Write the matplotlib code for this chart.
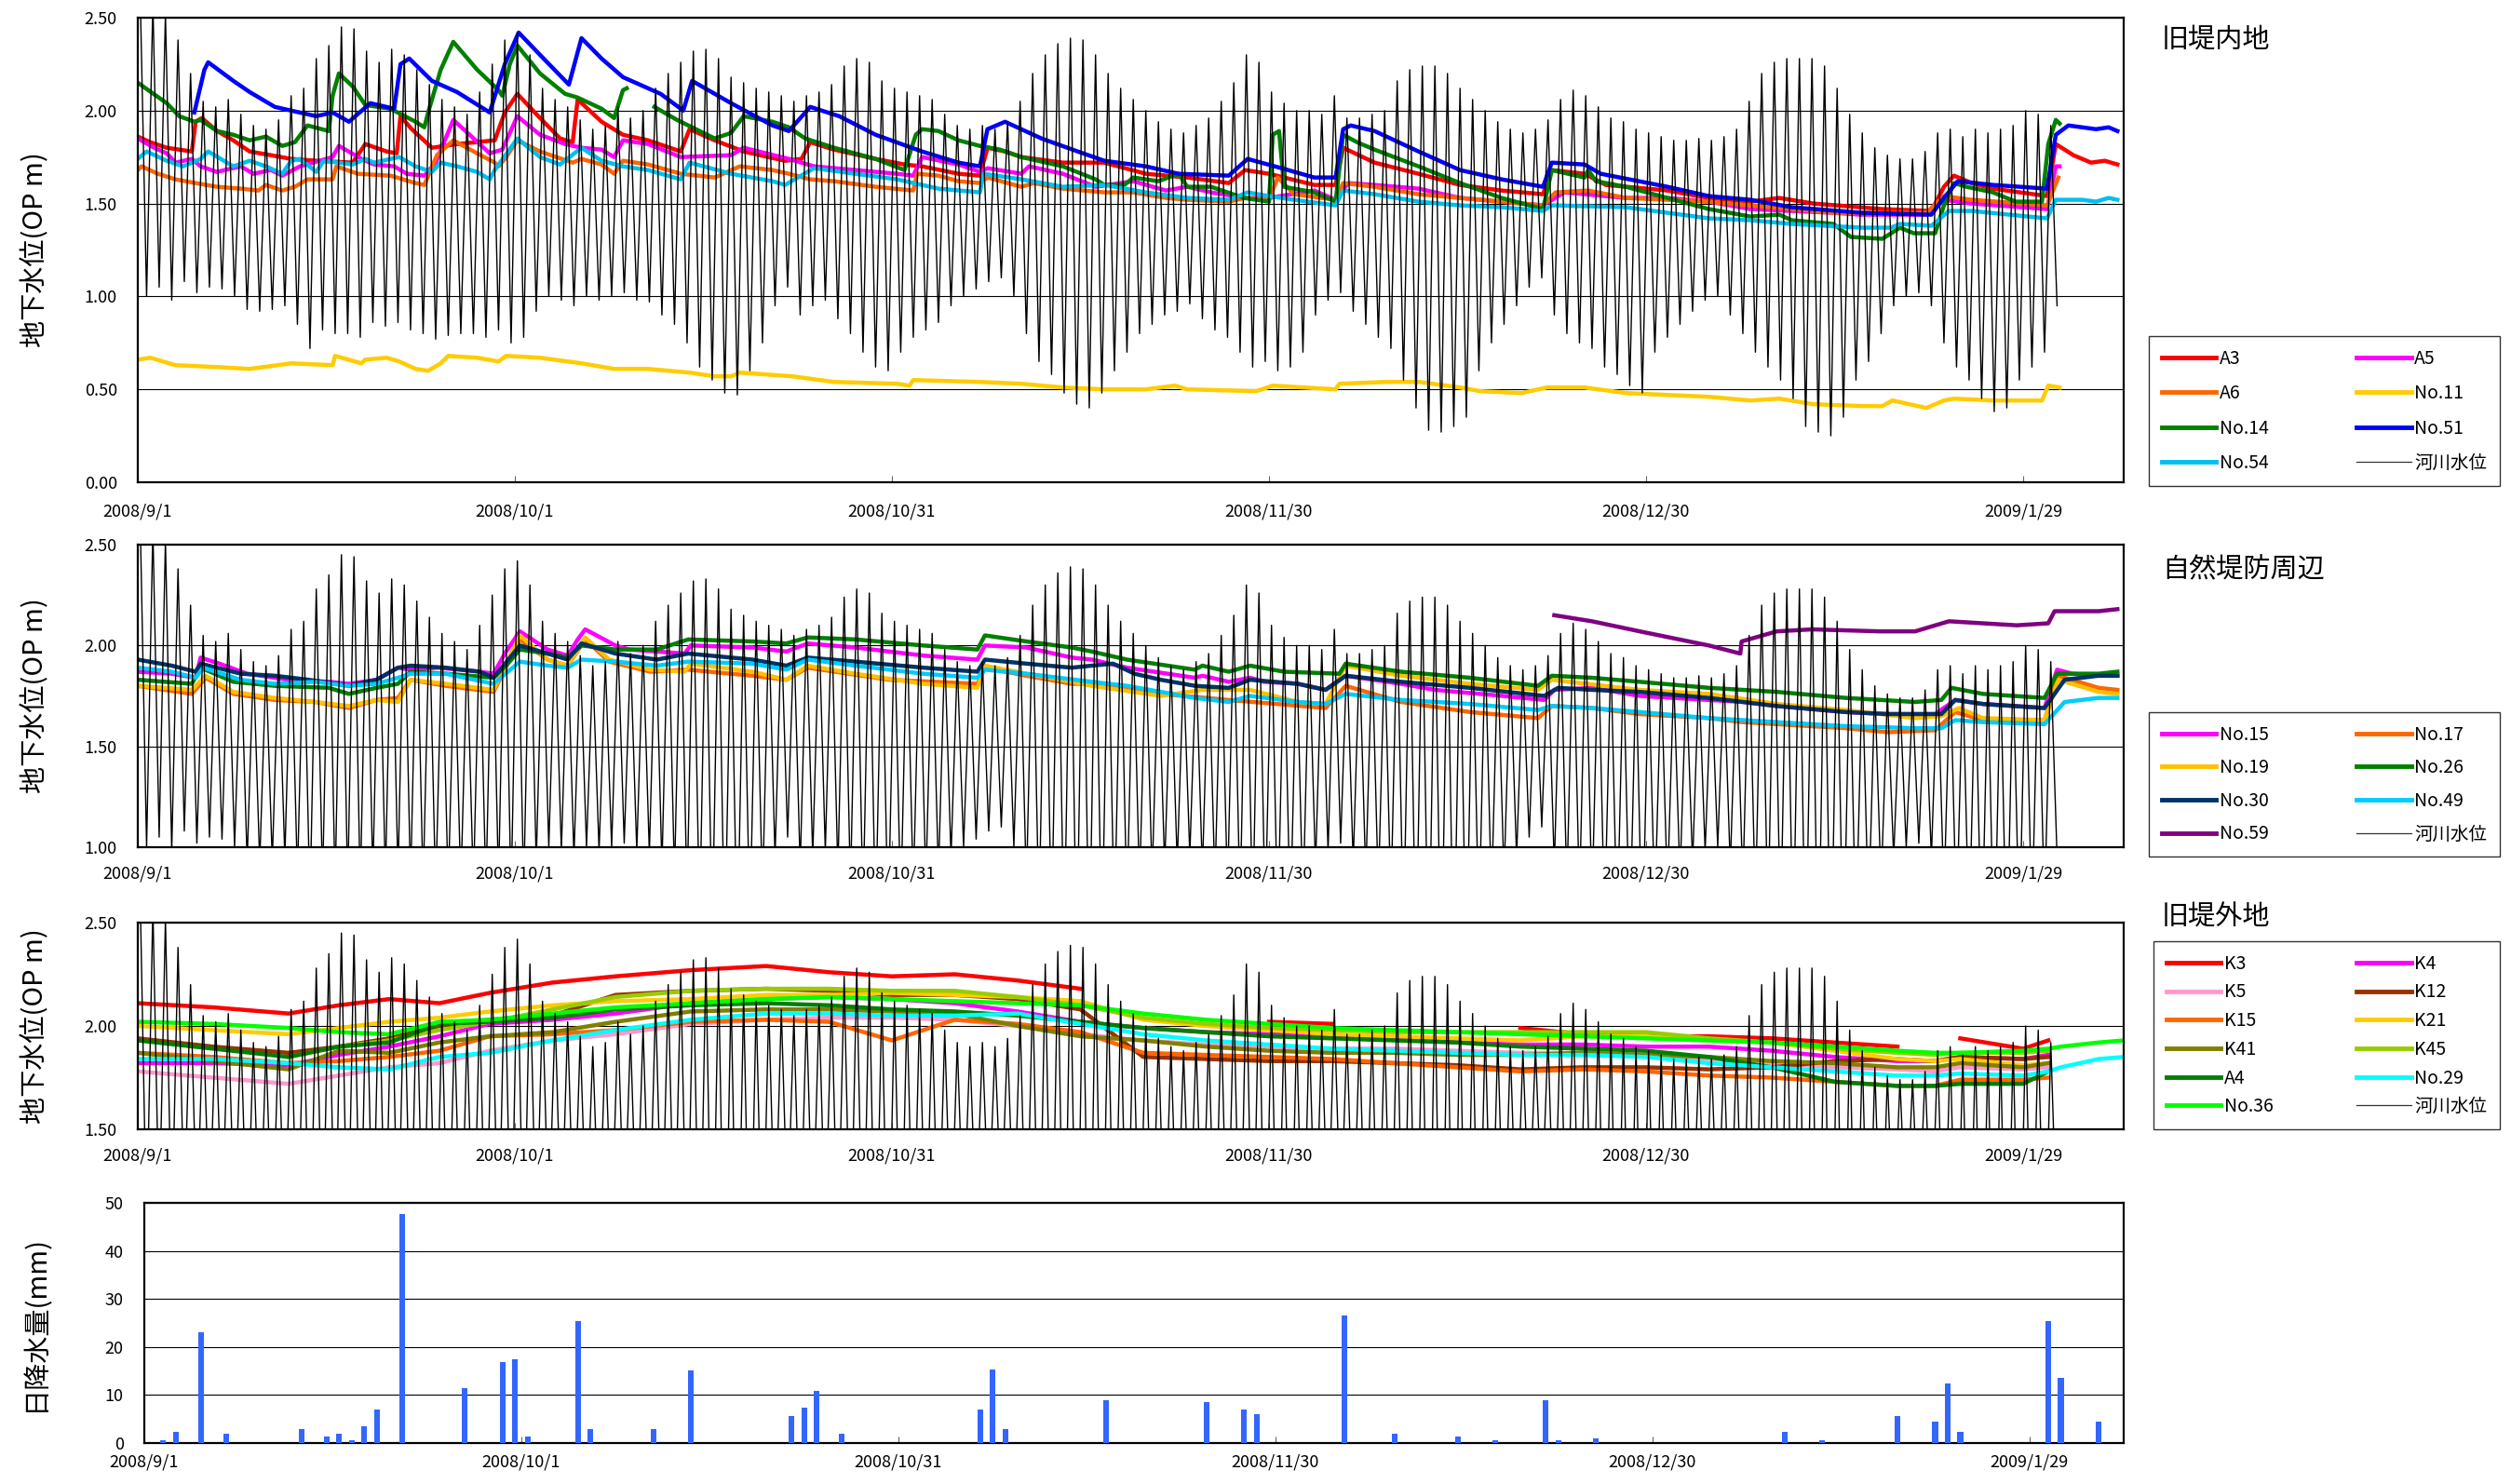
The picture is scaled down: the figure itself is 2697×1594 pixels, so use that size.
import numpy as np
import matplotlib
matplotlib.use('Agg')
import matplotlib.pyplot as plt
from matplotlib.lines import Line2D

plt.rcParams['font.family'] = ['Noto Sans CJK JP', 'DejaVu Sans']

n = np.nan

# x axis = days since 2008/9/1
tick_days = [0, 30, 60, 90, 120, 150]
tick_labels = ['2008/9/1', '2008/10/1', '2008/10/31', '2008/11/30', '2008/12/30', '2009/1/29']

# river stage (OP m): daily high / low, day 0 .. 152
river_hi = [
    2.60, 2.58, 2.52, 2.38, 2.20, 2.05, 2.02, 2.06, 1.98, 1.92,
    1.90, 1.95, 2.08, 2.12, 2.28, 2.35, 2.45, 2.44, 2.32, 2.26,
    2.33, 2.30, 2.22, 2.14, 2.06, 2.02, 1.98, 2.10, 2.25, 2.38,
    2.42, 2.30, 2.12, 2.06, 2.02, 1.95, 1.90, 1.92, 2.02, 1.96,
    2.00, 2.12, 2.20, 2.26, 2.32, 2.33, 2.28, 2.18, 2.15, 2.12,
    2.10, 2.08, 2.05, 2.08, 2.10, 2.14, 2.24, 2.28, 2.26, 2.16,
    2.12, 2.10, 2.08, 2.06, 1.98, 1.92, 1.90, 1.92, 1.90, 1.94,
    2.05, 2.20, 2.30, 2.36, 2.39, 2.38, 2.30, 2.20, 2.12, 2.06,
    2.00, 1.94, 1.90, 1.88, 1.92, 1.96, 2.05, 2.15, 2.30, 2.26,
    2.10, 2.04, 2.00, 2.00, 1.98, 2.08, 1.96, 1.96, 1.98, 2.00,
    2.16, 2.22, 2.24, 2.24, 2.20, 2.12, 2.06, 2.00, 1.94, 1.90,
    1.88, 1.90, 1.95, 2.06, 2.11, 2.08, 2.02, 1.96, 1.94, 1.90,
    1.88, 1.86, 1.84, 1.84, 1.85, 1.84, 1.86, 1.90, 2.05, 2.20,
    2.26, 2.28, 2.28, 2.28, 2.24, 2.12, 1.98, 1.88, 1.80, 1.76,
    1.74, 1.74, 1.78, 1.88, 1.90, 1.86, 1.90, 1.88, 1.90, 1.92,
    2.00, 1.98, 1.92]
river_lo = [
    1.00, 1.05, 0.98, 1.08, 1.02, 1.05, 1.04, 1.00, 0.93, 0.92,
    0.93, 0.95, 0.85, 0.72, 0.82, 0.80, 0.80, 0.78, 0.86, 0.84,
    0.86, 0.82, 0.80, 0.77, 0.79, 0.80, 0.80, 0.78, 0.82, 0.75,
    0.78, 0.92, 1.00, 0.98, 0.95, 1.00, 0.98, 1.00, 1.02, 0.98,
    0.97, 0.90, 0.85, 0.75, 0.62, 0.55, 0.48, 0.47, 0.60, 0.75,
    0.95, 1.05, 0.90, 0.95, 0.98, 0.88, 0.80, 0.70, 0.62, 0.60,
    0.70, 0.78, 0.82, 0.86, 0.95, 1.00, 1.04, 1.08, 1.10, 1.00,
    0.80, 0.65, 0.58, 0.48, 0.42, 0.40, 0.48, 0.60, 0.70, 0.80,
    0.85, 0.90, 0.92, 0.96, 0.88, 0.82, 0.78, 0.70, 0.62, 0.65,
    0.60, 0.62, 0.70, 0.90, 0.98, 1.02, 0.92, 0.85, 0.78, 0.72,
    0.55, 0.40, 0.28, 0.27, 0.30, 0.35, 0.60, 0.75, 0.85, 0.95,
    1.05, 1.10, 0.90, 0.80, 0.75, 0.72, 0.62, 0.58, 0.52, 0.48,
    0.70, 0.78, 0.85, 0.92, 0.98, 1.00, 0.90, 0.80, 0.70, 0.62,
    0.55, 0.45, 0.30, 0.27, 0.25, 0.35, 0.55, 0.65, 0.80, 0.95,
    1.00, 1.02, 0.95, 0.75, 0.62, 0.55, 0.45, 0.38, 0.40, 0.55,
    0.62, 0.70, 0.95]

# ---- 旧堤内地 (day, OP m)
A3 = [(0, 1.86), (1, 1.83), (2.3, 1.80), (4.3, 1.78), (4.6, 1.94), (5.1, 1.96), (6.3, 1.89), (7.6, 1.84),
      (8.9, 1.78), (10.6, 1.76), (12.2, 1.74), (14.2, 1.73), (17.1, 1.72), (18.1, 1.82), (19.8, 1.78),
      (20.6, 1.77), (20.9, 1.97), (21.8, 1.90), (23.4, 1.80), (25.4, 1.82), (28.4, 1.84), (29.2, 1.99),
      (30.2, 2.09), (32, 1.96), (33.6, 1.85), (34.6, 1.83), (35, 2.06), (36.9, 1.94), (38.6, 1.87),
      (40.6, 1.84), (43.2, 1.78), (43.9, 1.90), (45.9, 1.84), (48.2, 1.78), (51.5, 1.73), (52.8, 1.74),
      (53.5, 1.83), (55.4, 1.79), (58.7, 1.74), (61, 1.71), (62.4, 1.70), (65.3, 1.66), (67, 1.65),
      (67.6, 1.80), (69, 1.78), (70.3, 1.75), (73.6, 1.72), (76.9, 1.72), (80.2, 1.66), (83.5, 1.64),
      (86.8, 1.61), (88.1, 1.68), (90, 1.66), (93.6, 1.60), (95.3, 1.60), (95.9, 1.80), (98.4, 1.72),
      (101.9, 1.66), (105.2, 1.60), (108.5, 1.57), (111.8, 1.55), (112.5, 1.68), (115.1, 1.66),
      (116.8, 1.60), (121.7, 1.57), (125, 1.53), (128.3, 1.51), (130.6, 1.53), (133.3, 1.50),
      (138.8, 1.47), (142.7, 1.46), (143.7, 1.59), (144.5, 1.65), (145.9, 1.61), (147.6, 1.58),
      (151.9, 1.54), (152.6, 1.82), (154, 1.76), (155.4, 1.72), (156.5, 1.73), (157.5, 1.71)]
A5 = [(0, 1.85), (1.3, 1.80), (2.3, 1.77), (3, 1.72), (4.3, 1.74), (5, 1.70), (6.3, 1.67), (8.2, 1.70),
      (9.2, 1.66), (10.6, 1.68), (11.5, 1.65), (12.9, 1.70), (15.5, 1.75), (16, 1.81), (17.8, 1.74),
      (18.8, 1.71), (20.4, 1.70), (21.4, 1.66), (22.8, 1.65), (23.7, 1.72), (25.1, 1.95), (26.4, 1.87),
      (28, 1.77), (29, 1.79), (30.2, 1.97), (32, 1.87), (34, 1.82), (35.3, 1.80), (36.9, 1.79),
      (37.9, 1.75), (38.6, 1.84), (40.6, 1.82), (43.2, 1.75), (47.2, 1.76), (48.2, 1.80), (51.8, 1.74),
      (53.8, 1.70), (57.1, 1.68), (60.4, 1.66), (61.7, 1.65), (62.4, 1.75), (65.3, 1.71), (67, 1.67),
      (67.6, 1.69), (70.3, 1.66), (70.9, 1.70), (73.6, 1.66), (76.2, 1.59), (79.2, 1.62), (81.8, 1.57),
      (83.5, 1.59), (85.4, 1.56), (88.1, 1.53), (90, 1.53), (93.6, 1.57), (95.3, 1.52), (96.3, 1.61),
      (98.4, 1.60), (101.9, 1.58), (105.2, 1.53), (108.5, 1.51), (111.8, 1.49), (113.5, 1.56),
      (118.4, 1.53), (121.7, 1.53), (125, 1.51), (128.3, 1.47), (131.6, 1.46), (134.9, 1.45),
      (137, 1.44), (142.3, 1.44), (143.7, 1.52), (145.9, 1.50), (151.9, 1.47), (152.6, 1.70), (152.9, 1.70)]
A6 = [(0, 1.68), (0.3, 1.70), (1.6, 1.66), (3, 1.63), (4.6, 1.61), (6.3, 1.59), (8.2, 1.58), (9.6, 1.57),
      (10.2, 1.60), (11.5, 1.57), (12.5, 1.59), (13.5, 1.63), (15.5, 1.63), (15.8, 1.70), (17.5, 1.66),
      (20.1, 1.65), (22.1, 1.61), (22.8, 1.60), (23.8, 1.76), (25.1, 1.84), (27, 1.77), (28.4, 1.72),
      (28.7, 1.70), (29.2, 1.74), (30.2, 1.84), (32, 1.78), (34.6, 1.72), (35.3, 1.74), (36.9, 1.71),
      (37.9, 1.66), (38.6, 1.73), (40.6, 1.71), (43.2, 1.66), (45.9, 1.64), (47.9, 1.70), (50.5, 1.68),
      (51.8, 1.66), (53.5, 1.63), (55.4, 1.62), (58.7, 1.59), (61.7, 1.57), (62, 1.66), (63.7, 1.65),
      (65.3, 1.62), (67, 1.61), (67.6, 1.64), (70.3, 1.59), (71.3, 1.61), (73.6, 1.58), (76.9, 1.56),
      (79.2, 1.56), (81.8, 1.53), (83.5, 1.52), (86.8, 1.51), (88.1, 1.53), (90, 1.52), (90.7, 1.64),
      (92, 1.55), (95.3, 1.52), (95.9, 1.61), (98.4, 1.59), (101.9, 1.55), (105.2, 1.53), (108.5, 1.51),
      (111.8, 1.49), (112.8, 1.56), (115.4, 1.57), (118.4, 1.53), (121.7, 1.52), (125, 1.51),
      (128.3, 1.49), (131.6, 1.47), (134.9, 1.45), (137, 1.45), (142.3, 1.45), (143.7, 1.54),
      (145.9, 1.52), (151.9, 1.49), (152.8, 1.64)]
No11 = [(0, 0.66), (1, 0.67), (3, 0.63), (6.3, 0.62), (8.9, 0.61), (12.2, 0.64), (15.5, 0.63), (15.7, 0.68),
        (17.8, 0.64), (18.1, 0.66), (19.8, 0.67), (20.8, 0.65), (22.1, 0.61), (23.1, 0.60), (24.1, 0.64),
        (24.7, 0.68), (27, 0.67), (28.7, 0.65), (29.3, 0.68), (32, 0.67), (35.3, 0.64), (37.9, 0.61),
        (40.6, 0.61), (43.9, 0.59), (45.9, 0.57), (47.2, 0.57), (47.9, 0.59), (52.1, 0.57), (55.4, 0.54),
        (60.4, 0.53), (61.4, 0.52), (61.7, 0.55), (67, 0.54), (70.3, 0.53), (73.6, 0.51), (76.9, 0.50),
        (80.2, 0.50), (82.5, 0.52), (83.5, 0.50), (89, 0.49), (90.3, 0.52), (95.3, 0.50), (95.6, 0.53),
        (99.3, 0.54), (101.9, 0.54), (105.2, 0.51), (106.8, 0.49), (110.1, 0.48), (112.1, 0.51),
        (115.1, 0.51), (118.4, 0.48), (121.7, 0.47), (125, 0.46), (128.3, 0.44), (130.6, 0.45),
        (133.3, 0.42), (137.2, 0.41), (138.8, 0.41), (139.6, 0.44), (142.3, 0.40), (143.7, 0.44),
        (144.5, 0.45), (147.6, 0.44), (151.5, 0.44), (152, 0.52), (152.9, 0.51)]
No14 = [(0, 2.15), (2.3, 2.04), (3.3, 1.97), (4.5, 1.94), (5, 1.95), (6.3, 1.89), (7.6, 1.87), (8.9, 1.84),
        (10.2, 1.86), (11.5, 1.81), (12.5, 1.83), (13.5, 1.92), (15.2, 1.89), (15.5, 2.08), (16, 2.20),
        (17.1, 2.13), (18.1, 2.03), (20.1, 2.01), (22.1, 1.94), (22.8, 1.91), (23.1, 1.99), (24.1, 2.22),
        (25.1, 2.37), (27, 2.22), (28.7, 2.11), (29, 2.08), (29.6, 2.25), (30.2, 2.35), (32, 2.20),
        (34, 2.09), (35, 2.07), (36.9, 2.01), (37.9, 1.96), (38.6, 2.11), (38.9, 2.12), (39.5, n),
        (41.1, 2.02), (42.9, 1.95), (45.9, 1.85), (47.2, 1.88), (48.2, 1.97), (50.5, 1.94), (51.8, 1.91),
        (53.1, 1.85), (55.4, 1.80), (58.7, 1.74), (61, 1.68), (61.9, 1.87), (62.4, 1.90), (63.7, 1.89),
        (65.3, 1.84), (67, 1.81), (68.6, 1.79), (70.3, 1.75), (73.6, 1.70), (76.2, 1.63), (76.9, 1.60),
        (78.5, 1.60), (79.2, 1.64), (81.2, 1.62), (82.8, 1.66), (83.5, 1.59), (85.4, 1.59), (88, 1.53),
        (90, 1.51), (90.3, 1.87), (90.8, 1.89), (91.2, 1.59), (93.6, 1.56), (95.3, 1.51), (95.9, 1.87),
        (97, 1.83), (98.4, 1.79), (101.9, 1.70), (105.2, 1.61), (108.5, 1.53), (111.8, 1.47),
        (112.5, 1.68), (115.1, 1.64), (115.4, 1.68), (116, 1.62), (118.4, 1.59), (121.7, 1.53),
        (125, 1.47), (128.3, 1.43), (130.6, 1.44), (131.6, 1.41), (134.9, 1.39), (136.3, 1.32),
        (138.8, 1.31), (140.2, 1.37), (141.3, 1.34), (143, 1.34), (143.7, 1.49), (144.5, 1.61),
        (145.5, 1.59), (147.6, 1.56), (149.4, 1.51), (151.5, 1.51), (152, 1.82), (152.6, 1.95), (152.9, 1.93)]
No51 = [(4.5, 1.99), (5.3, 2.22), (5.6, 2.26), (7.6, 2.16), (8.9, 2.10), (10.9, 2.02), (12.2, 2.00),
        (14.2, 1.97), (15.5, 1.99), (16.8, 1.94), (18.5, 2.04), (20.4, 2.01), (20.9, 2.25), (21.6, 2.28),
        (23.4, 2.16), (25.4, 2.10), (28, 1.99), (29.2, 2.25), (30.3, 2.42), (32, 2.30), (34.3, 2.14),
        (35.3, 2.39), (36.9, 2.28), (38.6, 2.18), (41.6, 2.09), (43.4, 2.00), (44.1, 2.16), (47.2, 2.04),
        (50.5, 1.92), (51.8, 1.89), (53.5, 2.02), (55.8, 1.97), (58.7, 1.87), (62.4, 1.78), (65.3, 1.72),
        (67, 1.70), (67.6, 1.90), (69, 1.94), (71.9, 1.85), (75.2, 1.77), (76.9, 1.73), (80.2, 1.70),
        (82.8, 1.66), (86.8, 1.65), (88.3, 1.74), (91, 1.69), (93.6, 1.64), (95.3, 1.64), (95.9, 1.90),
        (96.5, 1.92), (98.4, 1.89), (101.9, 1.78), (105.2, 1.68), (108.5, 1.63), (111.8, 1.59),
        (112.5, 1.72), (115.1, 1.71), (116.4, 1.66), (121.7, 1.59), (125, 1.54), (128.3, 1.52),
        (131.6, 1.48), (137.2, 1.45), (142.7, 1.44), (143.7, 1.53), (144.8, 1.62), (147.6, 1.60),
        (151.9, 1.58), (152.6, 1.87), (153.6, 1.92), (155.8, 1.90), (156.8, 1.91), (157.5, 1.89)]
No54 = [(0, 1.74), (0.7, 1.78), (2.3, 1.73), (3.6, 1.70), (5, 1.74), (5.6, 1.78), (7.6, 1.70), (8.9, 1.73),
        (10.2, 1.70), (11.5, 1.66), (12.2, 1.73), (12.9, 1.74), (14.2, 1.67), (14.8, 1.73), (17.1, 1.71),
        (18.1, 1.74), (18.8, 1.72), (20.8, 1.75), (22.1, 1.70), (23.4, 1.67), (24.1, 1.72), (25.4, 1.70),
        (27, 1.67), (28, 1.63), (28.4, 1.68), (30.2, 1.85), (32, 1.75), (33.6, 1.71), (35.3, 1.80),
        (36.9, 1.73), (38.6, 1.70), (40.6, 1.68), (43.2, 1.63), (43.9, 1.72), (47.2, 1.66), (50.5, 1.62),
        (51.5, 1.60), (53.8, 1.69), (57.1, 1.66), (60.4, 1.63), (63.7, 1.58), (67, 1.56), (67.3, 1.66),
        (70.3, 1.63), (73.6, 1.59), (76.9, 1.60), (80.2, 1.56), (83.5, 1.53), (86.8, 1.52), (88.3, 1.56),
        (90, 1.54), (92, 1.52), (95.3, 1.49), (95.9, 1.57), (98.4, 1.55), (101.9, 1.51), (105.2, 1.49),
        (108.5, 1.48), (111.8, 1.46), (112.5, 1.49), (118.4, 1.48), (121.7, 1.45), (125, 1.42),
        (128.3, 1.41), (131.6, 1.39), (137.2, 1.37), (139.5, 1.37), (140.2, 1.39), (142.7, 1.38),
        (144.1, 1.46), (145.9, 1.46), (151.9, 1.42), (152.6, 1.52), (154.7, 1.52), (155.8, 1.51),
        (156.8, 1.53), (157.5, 1.52)]

# ---- 自然堤防周辺
No15 = [(0, 1.87), (2.7, 1.86), (4.6, 1.84), (5, 1.94), (6.5, 1.91), (8.7, 1.86), (12, 1.83), (15.2, 1.82),
        (16.8, 1.81), (19, 1.83), (20.7, 1.89), (21.7, 1.88), (23.9, 1.89), (27.2, 1.87), (28.3, 1.86),
        (29.3, 1.97), (30.4, 2.07), (32.6, 1.98), (34.2, 1.95), (35, 2.03), (35.6, 2.08), (38, 2.00),
        (39.1, 1.98), (41.3, 1.97), (43.5, 1.96), (44, 2.00), (48.9, 1.99), (51.6, 1.97), (53.3, 2.01),
        (57.1, 1.99), (62.5, 1.95), (66.8, 1.93), (67.4, 2.00), (70.7, 1.99), (74.3, 1.94), (75.9, 1.93),
        (78.7, 1.89), (84.1, 1.84), (84.7, 1.85), (86.8, 1.82), (88.5, 1.84), (89.6, 1.82), (92.3, 1.81),
        (94.5, 1.78), (96.1, 1.85), (100.5, 1.81), (103.2, 1.78), (108.6, 1.75), (111.9, 1.73),
        (112.7, 1.78), (115.7, 1.79), (119.5, 1.75), (125, 1.73), (127.7, 1.72), (130.4, 1.70),
        (135.9, 1.67), (139.2, 1.66), (143, 1.66), (144.6, 1.73), (146.8, 1.71), (151.7, 1.69),
        (152.7, 1.88), (153.9, 1.86), (156, 1.85), (157.5, 1.85)]
No17 = [(0, 1.80), (4.3, 1.76), (5.4, 1.84), (7.6, 1.76), (10.9, 1.73), (14.1, 1.72), (16.8, 1.69), (19, 1.73),
        (20.7, 1.74), (21.7, 1.83), (24.5, 1.80), (28.3, 1.77), (30.4, 2.03), (32.6, 1.93), (34.2, 1.90),
        (35.6, 2.03), (37.5, 1.92), (40.8, 1.87), (43.8, 1.88), (48.9, 1.85), (51.6, 1.83), (53.3, 1.89),
        (59.8, 1.83), (66.8, 1.81), (67.4, 1.89), (70.7, 1.85), (74.3, 1.81), (75.9, 1.81), (81.4, 1.76),
        (86.8, 1.73), (94.5, 1.69), (96.1, 1.80), (100.5, 1.72), (106, 1.67), (111.4, 1.64), (112.5, 1.70),
        (115.7, 1.69), (119.5, 1.66), (125, 1.64), (127.7, 1.62), (130.4, 1.61), (135.9, 1.59),
        (139.2, 1.57), (143, 1.58), (144.6, 1.67), (146.8, 1.63), (151.7, 1.63), (152.8, 1.85),
        (156, 1.79), (157.5, 1.78)]
No19 = [(0, 1.80), (4.3, 1.78), (5.4, 1.85), (7.6, 1.77), (10.9, 1.74), (14.1, 1.72), (16.8, 1.70), (19, 1.73),
        (20.7, 1.72), (21.7, 1.83), (24.5, 1.81), (28.3, 1.78), (30.4, 2.05), (32.6, 1.93), (34.2, 1.90),
        (35.6, 2.04), (37.5, 1.93), (40.8, 1.88), (43.5, 1.87), (44, 1.91), (48.9, 1.87), (51.6, 1.83),
        (53.3, 1.90), (57.1, 1.86), (62.5, 1.81), (66.8, 1.79), (67.4, 1.90), (70.7, 1.86), (74.3, 1.82),
        (75.9, 1.80), (81.4, 1.75), (84.7, 1.78), (88.5, 1.78), (92.3, 1.72), (94.5, 1.71), (96.1, 1.90),
        (100.5, 1.85), (106, 1.81), (111.4, 1.78), (112.5, 1.83), (119.5, 1.78), (125, 1.76),
        (127.2, 1.74), (130.4, 1.71), (135.9, 1.68), (141.4, 1.64), (143.5, 1.65), (144.9, 1.69),
        (146.8, 1.64), (151.7, 1.63), (152.8, 1.83), (156, 1.77), (157.5, 1.76)]
No26 = [(0, 1.83), (4.3, 1.81), (5, 1.89), (7.6, 1.82), (10.9, 1.80), (15.2, 1.79), (16.8, 1.76), (19, 1.79),
        (20.7, 1.81), (21.7, 1.87), (24.5, 1.86), (28.3, 1.84), (29.3, 1.90), (30.4, 1.98), (32.6, 1.96),
        (34.2, 1.94), (35.3, 2.00), (38, 1.98), (41.3, 1.98), (43.8, 2.03), (48.9, 2.02), (51.6, 2.01),
        (53.3, 2.04), (57.1, 2.03), (62.5, 2.00), (66.8, 1.98), (67.4, 2.05), (70.7, 2.02), (74.3, 1.99),
        (75.9, 1.97), (78.7, 1.93), (84.1, 1.88), (84.7, 1.90), (86.8, 1.87), (88.5, 1.90), (91.2, 1.87),
        (95.6, 1.86), (96.1, 1.91), (100.5, 1.87), (106, 1.84), (111.4, 1.80), (112.5, 1.85),
        (115.7, 1.84), (119.5, 1.82), (125, 1.79), (130.4, 1.77), (135.9, 1.74), (141.4, 1.72),
        (143.5, 1.73), (144.3, 1.79), (146.8, 1.76), (151.7, 1.74), (152.7, 1.86), (156, 1.86), (157.5, 1.87)]
No30 = [(0, 1.93), (2.7, 1.90), (4.6, 1.87), (5, 1.91), (8.2, 1.86), (10.9, 1.85), (13.6, 1.83), (16.8, 1.80),
        (19, 1.83), (20.7, 1.89), (21.7, 1.90), (24.5, 1.89), (27.2, 1.87), (28.3, 1.84), (30.4, 2.00),
        (32.6, 1.96), (34.2, 1.93), (35.3, 2.01), (38, 1.96), (41.3, 1.93), (43.8, 1.96), (48.9, 1.93),
        (51.6, 1.90), (53.3, 1.94), (57.1, 1.92), (62.5, 1.89), (66.8, 1.87), (67.4, 1.93), (70.7, 1.91),
        (74.3, 1.89), (75.9, 1.90), (77.6, 1.91), (79.3, 1.86), (81.4, 1.83), (84.1, 1.80), (86.8, 1.79),
        (88.5, 1.83), (92.3, 1.81), (94.5, 1.78), (96.1, 1.85), (100.5, 1.82), (106, 1.79), (111.9, 1.75),
        (113, 1.79), (115.7, 1.78), (119.5, 1.77), (125, 1.74), (130.4, 1.70), (135.9, 1.67),
        (139.2, 1.66), (143.5, 1.66), (144.6, 1.73), (146.8, 1.71), (151.7, 1.69), (153.3, 1.83),
        (156, 1.85), (157.5, 1.85)]
No49 = [(0, 1.89), (2.7, 1.87), (4.6, 1.84), (5.2, 1.89), (8.2, 1.83), (10.9, 1.81), (14.1, 1.82), (16.8, 1.80),
        (19, 1.81), (20.7, 1.84), (21.7, 1.86), (24.5, 1.86), (28.3, 1.81), (30.4, 1.92), (32.6, 1.90),
        (34.2, 1.89), (35.3, 1.93), (38, 1.92), (41.3, 1.90), (43.8, 1.92), (48.9, 1.91), (51.6, 1.88),
        (53.3, 1.93), (57.1, 1.90), (62.5, 1.86), (66.8, 1.84), (67.4, 1.88), (70.7, 1.86), (75.9, 1.82),
        (78.7, 1.80), (84.1, 1.74), (86.8, 1.72), (88.5, 1.75), (92.3, 1.72), (94.5, 1.71), (96.1, 1.76),
        (100.5, 1.73), (106, 1.71), (111.4, 1.68), (112.5, 1.70), (115.7, 1.69), (119.5, 1.67),
        (125, 1.64), (130.4, 1.62), (135.9, 1.60), (141.4, 1.59), (143.5, 1.59), (144.6, 1.63),
        (146.8, 1.62), (151.7, 1.61), (153.3, 1.72), (156, 1.74), (157.5, 1.74)]
No59 = [(112.7, 2.15), (115.7, 2.12), (119.5, 2.07), (125, 2.00), (127.5, 1.96), (127.6, 2.02), (130.4, 2.07),
        (133.2, 2.08), (138.6, 2.07), (141.4, 2.07), (144.1, 2.12), (146.8, 2.11), (149.5, 2.10),
        (152, 2.11), (152.5, 2.17), (156, 2.17), (157.5, 2.18)]

# ---- 旧堤外地 (common day grid)
p3_day = [0, 6, 12, 16, 20, 24, 28, 33, 38, 44, 50, 55, 60, 65, 70, 75, 80, 85, 90, 95,
          100, 105, 110, 115, 120, 125, 130, 135, 140, 143, 145, 150, 152, 153, 156, 158]
K3 = [2.11, 2.09, 2.06, 2.10, 2.13, 2.11, 2.16, 2.21, 2.24, 2.27, 2.29, 2.26, 2.24, 2.25, 2.22, 2.18, n, n,
      2.02, 2.01, n, n, 1.99, 1.96, 1.95, 1.95, 1.94, 1.92, 1.90, n, 1.94, 1.89, 1.93, n, n, n]
K4 = [1.82, 1.82, 1.81, 1.86, 1.90, 1.95, 2.01, 2.03, 2.06, 2.11, 2.13, 2.14, 2.13, 2.11, 2.07, 2.02, 1.99,
      1.97, 1.96, 1.95, 1.94, 1.92, 1.91, 1.91, 1.90, 1.90, 1.88, 1.85, 1.83, 1.83, 1.85, 1.84, 1.86, n, n, n]
K5 = [1.78, 1.75, 1.72, 1.76, 1.80, 1.82, 1.88, 1.93, 1.96, 2.01, 2.03, 2.04, 2.04, 2.03, 2.00, 1.96, 1.93,
      1.91, 1.90, 1.89, 1.89, 1.88, 1.87, 1.87, 1.86, 1.84, 1.82, 1.80, 1.79, 1.78, 1.80, 1.79, 1.80, n, n, n]
K12 = [1.94, 1.90, 1.87, 1.90, 1.94, 2.00, 2.03, 2.05, 2.15, 2.17, 2.18, 2.17, 2.15, 2.15, 2.13, 2.08, 1.85,
       1.84, 1.83, 1.83, 1.82, 1.81, 1.79, 1.80, 1.80, 1.79, 1.80, 1.83, 1.84, 1.83, 1.85, 1.84, 1.85, n, n, n]
K15 = [1.87, 1.85, 1.82, 1.83, 1.85, 1.88, 1.95, 1.96, 1.98, 2.02, 2.03, 2.02, 1.93, 2.03, 2.01, 1.97, 1.87,
       1.86, 1.85, 1.84, 1.82, 1.80, 1.78, 1.79, 1.78, 1.76, 1.75, 1.73, 1.71, 1.71, 1.74, 1.74, 1.75, n, n, n]
K21 = [2.00, 1.98, 1.96, 1.99, 2.02, 2.04, 2.07, 2.10, 2.12, 2.13, 2.15, 2.15, 2.16, 2.15, 2.14, 2.12, 2.03,
       2.00, 1.98, 1.96, 1.95, 1.94, 1.93, 1.95, 1.95, 1.93, 1.92, 1.88, 1.84, 1.83, 1.84, 1.81, 1.82, n, n, n]
K41 = [1.87, 1.83, 1.79, 1.88, 1.87, 1.92, 1.95, 1.97, 2.02, 2.07, 2.08, 2.08, 2.07, 2.06, 2.00, 1.95, 1.93,
       1.90, 1.88, 1.87, 1.87, 1.86, 1.86, 1.87, 1.86, 1.85, 1.83, 1.82, 1.80, 1.80, 1.82, 1.80, 1.82, n, n, n]
K45 = [n, n, 1.85, 1.90, 1.93, 1.98, 2.02, 2.08, 2.14, 2.17, 2.18, 2.18, 2.17, 2.17, 2.14, 2.10, 2.04,
       2.01, 1.99, 1.98, 1.97, 1.97, 1.97, 1.97, 1.97, 1.94, 1.92, 1.89, 1.87, 1.86, 1.87, 1.87, 1.88, n, n, n]
A4 = [1.93, 1.89, 1.85, 1.90, 1.92, 2.01, 2.02, 2.04, 2.08, 2.10, 2.11, 2.10, 2.08, 2.07, 2.05, 2.02, 1.99,
      1.97, 1.95, 1.94, 1.93, 1.92, 1.90, 1.89, 1.88, 1.85, 1.80, 1.73, 1.71, 1.71, 1.72, 1.72, 1.78, n, n, n]
No29 = [1.84, 1.84, 1.82, 1.80, 1.79, 1.85, 1.87, 1.93, 1.98, 2.03, 2.06, 2.06, 2.05, 2.05, 2.06, 2.01, 1.96,
        1.93, 1.91, 1.89, 1.88, 1.87, 1.86, 1.86, 1.85, 1.82, 1.80, 1.78, 1.76, 1.76, 1.77, 1.76, 1.78,
        1.80, 1.84, 1.85]
No36 = [2.02, 2.01, 1.99, 1.97, 1.96, 2.02, 2.03, 2.06, 2.09, 2.11, 2.13, 2.14, 2.13, 2.12, 2.11, 2.10, 2.06,
        2.03, 2.01, 1.99, 1.98, 1.97, 1.96, 1.95, 1.94, 1.93, 1.92, 1.90, 1.88, 1.87, 1.87, 1.88, 1.89,
        1.90, 1.92, 1.93]

# ---- daily rainfall
rain_day = [1, 2, 4, 6, 12, 14, 15, 16, 17, 18, 20, 25, 28, 29, 30, 34, 35, 40, 43, 51,
            52, 53, 55, 66, 67, 68, 76, 84, 87, 88, 95, 99, 104, 107, 111, 112, 115, 130, 133, 139,
            142, 143, 144, 151, 152, 155]
rain_mm = [0.6, 2.3, 23.1, 1.9, 2.9, 1.4, 1.9, 0.6, 3.5, 7.0, 47.7, 11.4, 16.9, 17.4, 1.4, 25.4, 2.9, 2.9, 15.1, 5.6,
           7.4, 10.9, 1.9, 7.0, 15.3, 2.9, 8.9, 8.5, 7.0, 6.0, 26.6, 1.9, 1.4, 0.6, 8.9, 0.6, 1.0, 2.3, 0.6, 5.6,
           4.5, 12.4, 2.3, 25.4, 13.6, 4.5]

p1_names = ['A3', 'A5', 'A6', 'No.11', 'No.14', 'No.51', 'No.54']
p1_data = [A3, A5, A6, No11, No14, No51, No54]
p1_colors = ['#FF0000', '#FF00FF', '#FF6600', '#FFCC00', '#008000', '#0000FF', '#00C0F0']

p2_names = ['No.15', 'No.17', 'No.19', 'No.26', 'No.30', 'No.49', 'No.59']
p2_data = [No15, No17, No19, No26, No30, No49, No59]
p2_colors = ['#FF00FF', '#FF6600', '#FFC000', '#008000', '#003366', '#00CCFF', '#800080']

p3_names = ['K3', 'K4', 'K5', 'K12', 'K15', 'K21', 'K41', 'K45', 'A4', 'No.29', 'No.36']
p3_data = [K3, K4, K5, K12, K15, K21, K41, K45, A4, No29, No36]
p3_colors = ['#FF0000', '#FF00FF', '#FF99CC', '#993300', '#FF6600', '#FFCC00', '#808000', '#99CC00',
             '#008000', '#00FFFF', '#00FF00']

W, H = 2697, 1594
fig = plt.figure(figsize=(W / 100, H / 100), dpi=100)


def axes_px(left, top, right, bottom):
    return fig.add_axes([left / W, 1 - bottom / H, (right - left) / W, (bottom - top) / H])


def style_axes(ax, ylim, yticks, yfmt, xpad):
    ax.set_xlim(0, 158)
    ax.set_ylim(*ylim)
    ax.set_yticks(yticks)
    ax.set_yticklabels([yfmt.format(v) for v in yticks])
    ax.set_xticks(tick_days)
    ax.set_xticklabels(tick_labels)
    ax.tick_params(axis='x', direction='in', length=5, width=0.8, color='#666666', pad=xpad, labelsize=13)
    ax.tick_params(axis='y', length=0, pad=16, labelsize=13)
    ax.grid(axis='y', color='black', lw=0.8)
    ax.set_axisbelow(True)
    for s in ax.spines.values():
        s.set_linewidth(1.6)
        s.set_color('black')


def river_xy():
    # one high and one low per day
    hi = np.array(river_hi)
    lo = np.array(river_lo)
    d = np.arange(len(hi))
    x = np.column_stack([d + 0.2, d + 0.7]).ravel()
    y = np.column_stack([hi, lo]).ravel()
    return x, y


def add_legend(ax, names, colors, box, spacing):
    handles = [Line2D([], [], color=c, lw=3.5) for c in colors]
    handles.append(Line2D([], [], color='#333333', lw=0.9))
    labels = names + ['河川水位']
    # two columns, read row by row
    order = list(range(0, len(labels), 2)) + list(range(1, len(labels), 2))
    x0, y0, x1, y1 = box
    ax.legend([handles[i] for i in order], [labels[i] for i in order], ncol=2,
              loc='upper left', bbox_to_anchor=(x0 / W, 1 - y1 / H, (x1 - x0) / W, (y1 - y0) / H),
              bbox_transform=fig.transFigure, mode='expand', borderaxespad=0,
              fancybox=False, edgecolor='#333333', framealpha=1, fontsize=14,
              handlelength=3.0, handletextpad=0.2, labelspacing=spacing, borderpad=0.7)


rx, ry = river_xy()

# panel 1
ax1 = axes_px(148, 19, 2281, 518)
for pts, c in zip(p1_data, p1_colors):
    d, v = np.array(pts, dtype=float).T
    ax1.plot(d, v, color=c, lw=3.2)
ax1.plot(rx, ry, color='black', lw=1.0, zorder=5)
style_axes(ax1, (0, 2.5), [0, 0.5, 1.0, 1.5, 2.0, 2.5], '{:.2f}', 16)
ax1.set_ylabel('地下水位(OP m)', fontsize=21)
ax1.yaxis.set_label_coords(-0.0445, 0.5)
add_legend(ax1, p1_names, p1_colors, (2308, 361, 2685, 515), 0.85)
fig.text(2322 / W, 1 - 43 / H, '旧堤内地', fontsize=21, va='center')

# panel 2
ax2 = axes_px(148, 585, 2281, 910)
for pts, c in zip(p2_data, p2_colors):
    d, v = np.array(pts, dtype=float).T
    ax2.plot(d, v, color=c, lw=3.2)
ax2.plot(rx, ry, color='black', lw=1.0, zorder=5)
style_axes(ax2, (1.0, 2.5), [1.0, 1.5, 2.0, 2.5], '{:.2f}', 14)
ax2.set_ylabel('地下水位(OP m)', fontsize=21)
ax2.yaxis.set_label_coords(-0.0445, 0.5)
add_legend(ax2, p2_names, p2_colors, (2308, 765, 2685, 906), 0.75)
fig.text(2322 / W, 1 - 612 / H, '自然堤防周辺', fontsize=21, va='center')

# panel 3
ax3 = axes_px(148, 991, 2281, 1213)
for vals, c in zip(p3_data, p3_colors):
    ax3.plot(p3_day, vals, color=c, lw=3.2)
ax3.plot(rx, ry, color='black', lw=1.0, zorder=5)
style_axes(ax3, (1.5, 2.5), [1.5, 2.0, 2.5], '{:.2f}', 14)
ax3.set_ylabel('地下水位(OP m)', fontsize=21)
ax3.yaxis.set_label_coords(-0.0445, 0.5)
add_legend(ax3, p3_names, p3_colors, (2313, 1011, 2685, 1211), 0.5)
fig.text(2322 / W, 1 - 986 / H, '旧堤外地', fontsize=21, va='center')

# panel 4
ax4 = axes_px(155, 1292, 2281, 1550)
ax4.bar(np.array(rain_day) + 0.5, rain_mm, width=0.45, color='#3366FF', zorder=3)
style_axes(ax4, (0, 50), [0, 10, 20, 30, 40, 50], '{:.0f}', 8)
ax4.set_xlim(0, 157.5)
ax4.set_ylabel('日降水量(mm)', fontsize=21)
ax4.yaxis.set_label_coords(-0.048, 0.5)

fig.savefig('out.png', dpi=100, facecolor='white')
